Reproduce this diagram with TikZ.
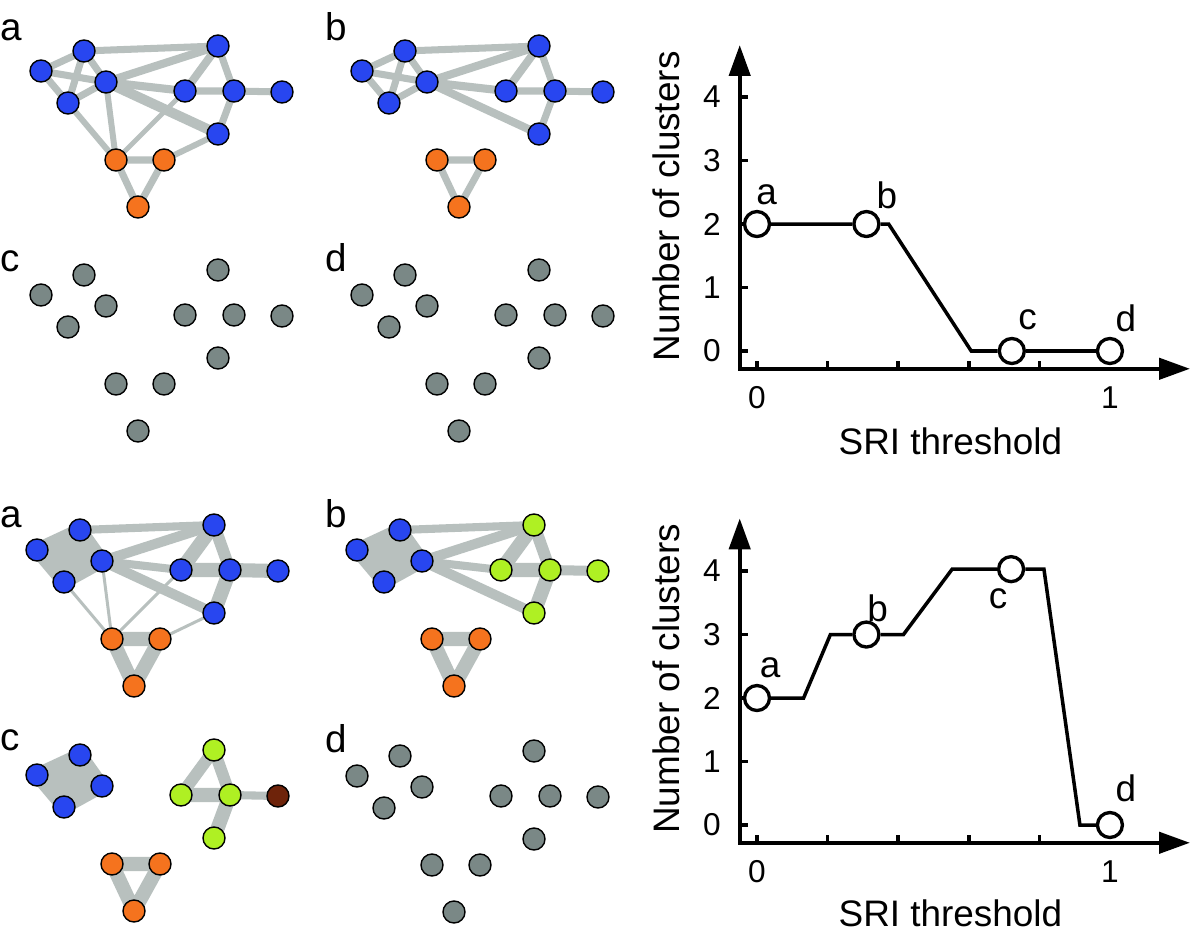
\documentclass[tikz,border=0pt]{standalone}
\usepackage{fontspec}
\setmainfont{Liberation Sans}
\usepackage{tikz}
\usetikzlibrary{positioning,arrows.meta,backgrounds}

\definecolor{edgegray}{RGB}{184,192,190}
\definecolor{nodeblue}{RGB}{40,70,240}
\definecolor{nodeorange}{RGB}{245,115,30}
\definecolor{nodegreen}{RGB}{175,240,35}
\definecolor{nodebrown}{RGB}{110,35,10}
\definecolor{nodegray}{RGB}{122,136,134}

% the twelve nodes of one network panel
\newcommand{\placenet}[5]{%
  \node[#2] (#1n1) at (41,71) {};
  \node[#2] (#1n2) at (84,51) {};
  \node[#2] (#1n3) at (106,82) {};
  \node[#2] (#1n4) at (68,103) {};
  \node[#3] (#1n5) at (218,46) {};
  \node[#3] (#1n6) at (185,91) {};
  \node[#3] (#1n7) at (234,91) {};
  \node[#4] (#1n8) at (282,92) {};
  \node[#3] (#1n9) at (218,134) {};
  \node[#5] (#1o1) at (116,160) {};
  \node[#5] (#1o2) at (164,160) {};
  \node[#5] (#1o3) at (138,207) {};
}

\begin{document}
\begin{tikzpicture}[
    x=0.02cm, y=-0.02cm,
    vtx/.style={circle, draw=black, line width=0.8pt, minimum size=0.44cm, inner sep=0pt},
    bluev/.style={vtx, fill=nodeblue},
    orangev/.style={vtx, fill=nodeorange},
    greenv/.style={vtx, fill=nodegreen},
    brownv/.style={vtx, fill=nodebrown},
    grayv/.style={vtx, fill=nodegray},
    link/.style={draw=edgegray, line width=#1, line join=round},
    link/.default=4pt,
    panel/.style={font=\fontsize{22}{26}\selectfont, anchor=base west, inner sep=0pt},
    ticklab/.style={font=\fontsize{18}{21}\selectfont, inner sep=0pt},
    axtitle/.style={font=\fontsize{21}{25}\selectfont, inner sep=0pt},
    ptlab/.style={font=\fontsize{21}{24}\selectfont, inner sep=0pt},
    datapt/.style={circle, draw=black, fill=white, line width=1.9pt, minimum size=0.5cm, inner sep=0pt},
    axisline/.style={line width=2.5pt, line cap=rect, -{Triangle[length=0.62cm, width=0.42cm]}},
    tickmark/.style={line width=2pt},
    dataline/.style={line width=2pt}
]
\useasboundingbox (0,0) rectangle (1200,939);

% network panels
\begin{scope}
  \placenet{ta}{bluev}{bluev}{bluev}{orangev}
\end{scope}
\begin{scope}[shift={(321,0)}]
  \placenet{tb}{bluev}{bluev}{bluev}{orangev}
\end{scope}
\begin{scope}[shift={(0,224)}]
  \placenet{tc}{grayv}{grayv}{grayv}{grayv}
\end{scope}
\begin{scope}[shift={(321,224)}]
  \placenet{td}{grayv}{grayv}{grayv}{grayv}
\end{scope}
\begin{scope}[shift={(-4,479)}]
  \placenet{ba}{bluev}{bluev}{bluev}{orangev}
\end{scope}
\begin{scope}[shift={(316,479)}]
  \placenet{bb}{bluev}{greenv}{greenv}{orangev}
\end{scope}
\begin{scope}[shift={(-4,704)}]
  \placenet{bc}{bluev}{greenv}{brownv}{orangev}
\end{scope}
\begin{scope}[shift={(316,705)}]
  \placenet{bd}{grayv}{grayv}{grayv}{grayv}
\end{scope}

\node[panel] (labta) at (0.5,41) {a};
\node[panel] (labtb) at (325,41) {b};
\node[panel] (labtc) at (0.5,272) {c};
\node[panel] (labtd) at (325,272) {d};
\node[panel] (labba) at (0.5,527) {a};
\node[panel] (labbb) at (325,527) {b};
\node[panel] (labbc) at (0.5,750) {c};
\node[panel] (labbd) at (325,752) {d};

\begin{scope}[on background layer]
  \fill[white] (0,0) rectangle (1200,939);
  % top a
  \draw[link] (tan1.center) -- (tan2.center) -- (tan3.center) -- (tan4.center) -- cycle
    (tan1.center) -- (tan3.center) (tan2.center) -- (tan4.center)
    (tan2.center) -- (tan5.center) -- (tan7.center) -- (tan8.center)
    (tan6.center) -- (tan7.center) -- (tan9.center)
    (tao1.center) -- (tao2.center) -- (tao3.center) -- cycle;
  \draw[link=4.6pt] (tan3.center) -- (tan5.center) -- (tan6.center) -- cycle;
  \draw[link=5.7pt] (tan3.center) -- (tan9.center);
  \draw[link=3.4pt] (tan4.center) -- (tao1.center) -- (tan3.center)
    (tao2.center) -- (tan9.center);
  \draw[link=2.8pt] (tan6.center) -- (tao1.center);
  % top b
  \draw[link] (tbn1.center) -- (tbn2.center) -- (tbn3.center) -- (tbn4.center) -- cycle
    (tbn1.center) -- (tbn3.center) (tbn2.center) -- (tbn4.center)
    (tbn2.center) -- (tbn5.center) -- (tbn7.center) -- (tbn8.center)
    (tbn6.center) -- (tbn7.center) -- (tbn9.center)
    (tbo1.center) -- (tbo2.center) -- (tbo3.center) -- cycle;
  \draw[link=4.6pt] (tbn3.center) -- (tbn5.center) -- (tbn6.center) -- cycle;
  \draw[link=4.6pt] (tbn3.center) -- (tbn9.center);
  % bottom a
  \draw[link=8pt, fill=edgegray] (ban1.center) -- (ban2.center) -- (ban3.center) -- (ban4.center) -- cycle;
  \draw[link=4.6pt] (ban2.center) -- (ban5.center) (ban3.center) -- (ban6.center);
  \draw[link=5.7pt] (ban5.center) -- (ban3.center) -- (ban9.center);
  \draw[link=8pt] (ban5.center) -- (ban6.center) -- (ban7.center) -- (ban8.center)
    (ban7.center) -- (ban9.center)
    (bao1.center) -- (bao2.center) -- (bao3.center) -- cycle;
  \draw[link=6.8pt] (ban5.center) -- (ban7.center);
  \draw[link=1.7pt] (ban4.center) -- (bao1.center) -- (ban3.center)
    (ban6.center) -- (bao1.center) (ban9.center) -- (bao2.center);
  % bottom b
  \draw[link=8pt, fill=edgegray] (bbn1.center) -- (bbn2.center) -- (bbn3.center) -- (bbn4.center) -- cycle;
  \draw[link=4.6pt] (bbn2.center) -- (bbn5.center) (bbn3.center) -- (bbn6.center);
  \draw[link=5.7pt] (bbn5.center) -- (bbn3.center) -- (bbn9.center) (bbn7.center) -- (bbn8.center);
  \draw[link=8pt] (bbn5.center) -- (bbn6.center) -- (bbn7.center) -- (bbn9.center)
    (bbo1.center) -- (bbo2.center) -- (bbo3.center) -- cycle;
  \draw[link=6.8pt] (bbn5.center) -- (bbn7.center);
  % bottom c
  \draw[link=8pt, fill=edgegray] (bcn1.center) -- (bcn2.center) -- (bcn3.center) -- (bcn4.center) -- cycle;
  \draw[link=8pt] (bcn6.center) -- (bcn7.center) -- (bcn9.center)
    (bco1.center) -- (bco2.center) -- (bco3.center) -- cycle;
  \draw[link=6.8pt] (bcn6.center) -- (bcn5.center) -- (bcn7.center);
  \draw[link=4.6pt] (bcn7.center) -- (bcn8.center);
\end{scope}

% number of clusters against threshold, upper series
\begin{scope}[shift={(757,351)}, x=7.06cm, y=1.27cm]
  \coordinate (tcorner) at (-0.049,-0.28);
  \coordinate (tytip) at (-0.049,4.82);
  \coordinate (txtip) at (1.227,-0.28);
  \draw[axisline] (tcorner) -- (tytip);
  \draw[axisline] (tcorner) -- (txtip);
  \draw[tickmark] (-0.049,0) -- ++(0.024,0) (-0.049,1) -- ++(0.024,0)
    (-0.049,2) -- ++(0.024,0) (-0.049,3) -- ++(0.024,0) (-0.049,4) -- ++(0.024,0);
  \draw[tickmark] (0,-0.28) -- ++(0,0.13) (0.2,-0.28) -- ++(0,0.13)
    (0.4,-0.28) -- ++(0,0.13) (0.6,-0.28) -- ++(0,0.13) (0.8,-0.28) -- ++(0,0.13);
  \node[ticklab] (ty0) at (-0.128,0) {0};
  \node[ticklab] (ty1) at (-0.128,1) {1};
  \node[ticklab] (ty2) at (-0.128,2) {2};
  \node[ticklab] (ty3) at (-0.128,3) {3};
  \node[ticklab] (ty4) at (-0.128,4) {4};
  \node[ticklab] (tx0) at (0,-0.74) {0};
  \node[ticklab] (tx1) at (1,-0.74) {1};
  \node[axtitle, rotate=90] (tytitle) at (-0.257,2.28) {Number of clusters};
  \node[axtitle] (txtitle) at (0.548,-1.42) {SRI threshold};
  \node[datapt] (tpa) at (0,2) {};
  \node[datapt] (tpb) at (0.31,2) {};
  \node[datapt] (tpc) at (0.722,0) {};
  \node[datapt] (tpd) at (1,0) {};
  \coordinate (tk1) at (0.373,2);
  \coordinate (tk2) at (0.607,0);
  \draw[dataline] (tpa) -- (tpb) -- (tk1) -- (tk2) -- (tpc) -- (tpd);
  \node[ptlab] (tla) at (0.027,2.46) {a};
  \node[ptlab] (tlb) at (0.368,2.46) {b};
  \node[ptlab] (tlc) at (0.767,0.49) {c};
  \node[ptlab] (tld) at (1.045,0.52) {d};
\end{scope}

% number of clusters against threshold, lower series
\begin{scope}[shift={(757,825)}, x=7.06cm, y=1.27cm]
  \coordinate (bcorner) at (-0.049,-0.28);
  \coordinate (bytip) at (-0.049,4.83);
  \coordinate (bxtip) at (1.227,-0.28);
  \draw[axisline] (bcorner) -- (bytip);
  \draw[axisline] (bcorner) -- (bxtip);
  \draw[tickmark] (-0.049,0) -- ++(0.024,0) (-0.049,1) -- ++(0.024,0)
    (-0.049,2) -- ++(0.024,0) (-0.049,3) -- ++(0.024,0) (-0.049,4) -- ++(0.024,0);
  \draw[tickmark] (0,-0.28) -- ++(0,0.13) (0.2,-0.28) -- ++(0,0.13)
    (0.4,-0.28) -- ++(0,0.13) (0.6,-0.28) -- ++(0,0.13) (0.8,-0.28) -- ++(0,0.13);
  \node[ticklab] (by0) at (-0.128,0) {0};
  \node[ticklab] (by1) at (-0.128,1) {1};
  \node[ticklab] (by2) at (-0.128,2) {2};
  \node[ticklab] (by3) at (-0.128,3) {3};
  \node[ticklab] (by4) at (-0.128,4) {4};
  \node[ticklab] (bx0) at (0,-0.74) {0};
  \node[ticklab] (bx1) at (1,-0.74) {1};
  \node[axtitle, rotate=90] (bytitle) at (-0.257,2.3) {Number of clusters};
  \node[axtitle] (bxtitle) at (0.548,-1.39) {SRI threshold};
  \node[datapt] (bpa) at (0,2) {};
  \node[datapt] (bpb) at (0.31,3) {};
  \node[datapt] (bpc) at (0.72,4.03) {};
  \node[datapt] (bpd) at (1,0) {};
  \coordinate (bk1) at (0.132,2);
  \coordinate (bk2) at (0.208,3);
  \coordinate (bk3) at (0.415,3);
  \coordinate (bk4) at (0.553,4.03);
  \coordinate (bk5) at (0.813,4.03);
  \coordinate (bk6) at (0.915,0);
  \draw[dataline] (bpa) -- (bk1) -- (bk2) -- (bpb) -- (bk3) -- (bk4) -- (bpc)
    -- (bk5) -- (bk6) -- (bpd);
  \node[ptlab] (bla) at (0.037,2.47) {a};
  \node[ptlab] (blb) at (0.342,3.41) {b};
  \node[ptlab] (blc) at (0.683,3.57) {c};
  \node[ptlab] (bld) at (1.045,0.58) {d};
\end{scope}

\end{tikzpicture}
\end{document}
